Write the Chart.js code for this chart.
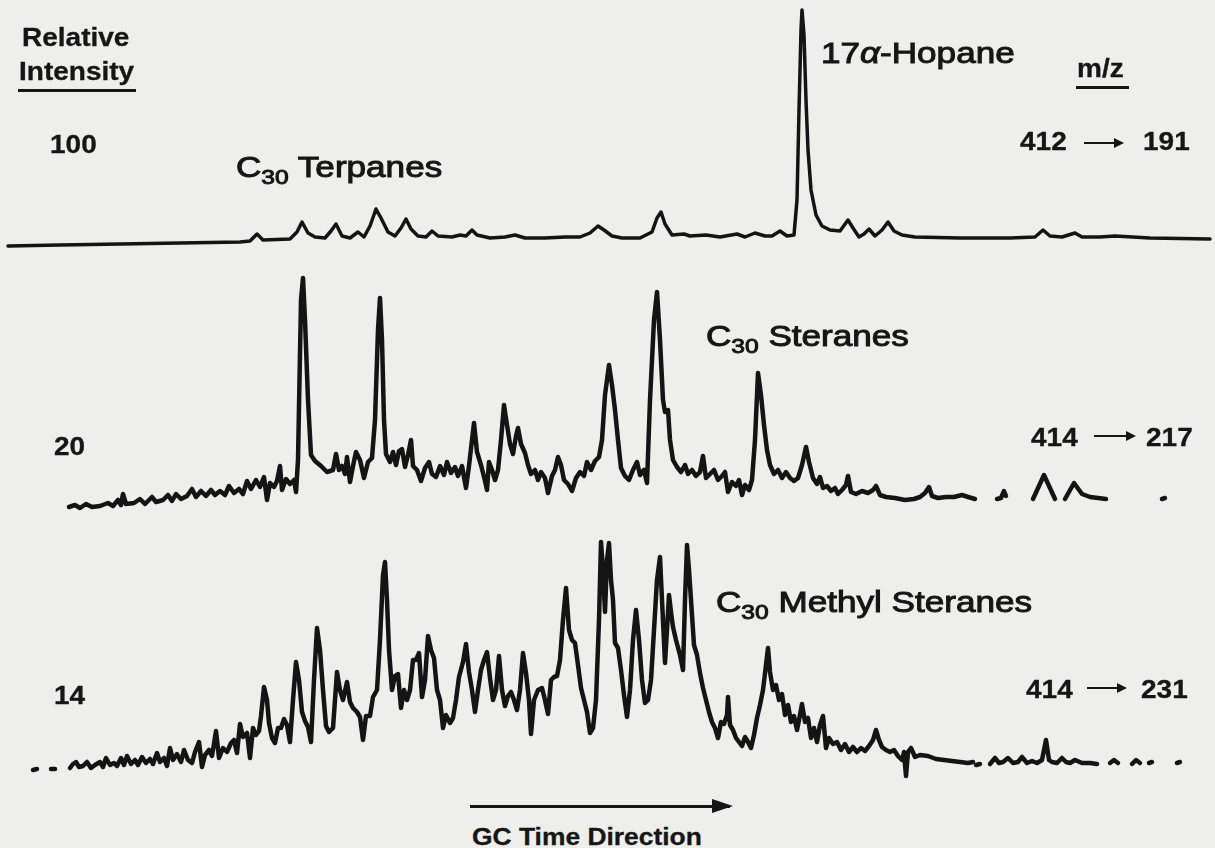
<!DOCTYPE html>
<html>
<head>
<meta charset="utf-8">
<title>C30 terpanes and steranes - GC/MS/MS</title>
<script src="https://cdn.jsdelivr.net/npm/chart.js@4.4.1/dist/chart.umd.min.js"></script>
<style>
  html, body { margin: 0; padding: 0; }
  body {
    width: 1215px; height: 848px; position: relative; overflow: hidden;
    background: #eeeeeb; color: #161616;
    font-family: "Liberation Sans", Arial, Helvetica, sans-serif;
  }
  canvas { position: absolute; left: 0; }
  .t { position: absolute; white-space: nowrap; line-height: 1; transform-origin: 0 0; }
  .b { font-weight: bold; font-size: 25px; transform: scaleX(1.12); -webkit-text-stroke: 0.3px #161616; }
  .big { font-size: 30px; -webkit-text-stroke: 1px #161616; transform: scaleX(1.17); }
  .big sub { font-size: 21px; vertical-align: baseline; position: relative; top: 7px; }
  .rule { position: absolute; height: 3px; background: #161616; }
  .arr { position: absolute; height: 2px; background: #161616; }
  .arr::after {
    content: ""; position: absolute; right: -2px; top: -4px;
    border-left: 10px solid #161616; border-top: 5px solid transparent; border-bottom: 5px solid transparent;
  }
  .gc { height: 3px; }
  .gc::after { right: -3px; top: -6px; border-left: 21px solid #161616; border-top: 7px solid transparent; border-bottom: 7px solid transparent; }
</style>
</head>
<body>

<canvas id="terp" width="1215" height="260"></canvas>
<canvas id="ster" width="1215" height="260"></canvas>
<canvas id="mster" width="1215" height="270"></canvas>

<div class="t b" style="left:22px;top:25px">Relative</div>
<div class="t b" style="left:19px;top:59px">Intensity</div>
<div class="rule" style="left:18px;top:89px;width:118px"></div>
<div class="t b" style="left:50px;top:132px">100</div>
<div class="t big" style="left:236px;top:152px">C<sub>30</sub> Terpanes</div>
<div class="t big" style="left:821px;top:38px">17<i>α</i>-Hopane</div>
<div class="t b" style="left:1077px;top:56px">m/z</div>
<div class="rule" style="left:1076px;top:86px;width:53px"></div>
<div class="t b" style="left:1020px;top:129px">412</div>
<div class="arr" style="left:1084px;top:142px;width:38px"></div>
<div class="t b" style="left:1143px;top:129px">191</div>

<div class="t big" style="left:706px;top:321px">C<sub>30</sub> Steranes</div>
<div class="t b" style="left:54px;top:434px">20</div>
<div class="t b" style="left:1031px;top:425px">414</div>
<div class="arr" style="left:1094px;top:435px;width:40px"></div>
<div class="t b" style="left:1146px;top:425px">217</div>

<div class="t big" style="left:716px;top:587px">C<sub>30</sub> Methyl Steranes</div>
<div class="t b" style="left:54px;top:683px">14</div>
<div class="t b" style="left:1026px;top:677px">414</div>
<div class="arr" style="left:1087px;top:687px;width:38px"></div>
<div class="t b" style="left:1141px;top:677px">231</div>

<div class="arr gc" style="left:470px;top:805px;width:260px"></div>
<div class="t b" style="left:472px;top:825px;font-size:24px;transform:scaleX(1.1)">GC Time Direction</div>

<script>
// GC time (scan units across the page) and relative intensity for each MRM trace
// m/z 412 -> 191, C30 terpanes (17a-hopane is the big one)
const terpTime = [
  8, 60, 120, 180, 240, 250, 257, 263, 290, 297,
  302, 308, 315, 325, 331, 336, 342, 350, 358, 364,
  370, 376, 381, 388, 395, 401, 406, 411, 418, 426,
  432, 438, 452, 460, 466, 472, 477, 490, 505, 515,
  525, 545, 565, 580, 590, 598, 604, 612, 622, 640,
  652, 657, 661, 665, 672, 684, 690, 706, 720, 737,
  745, 755, 765, 772, 780, 787, 794, 797, 799, 801,
  802, 804, 806, 808, 811, 816, 822, 830, 840, 848,
  853, 859, 864, 869, 875, 882, 888, 894, 902, 915,
  960, 1010, 1035, 1043, 1050, 1062, 1075, 1082, 1100, 1115,
  1150, 1210
];
const terpInt = [
  14, 15, 16, 17, 18, 19, 26, 20, 21, 28,
  38, 27, 23, 22, 29, 36, 24, 22, 28, 23,
  34, 51, 42, 28, 24, 32, 41, 31, 24, 23,
  29, 24, 23, 25, 24, 30, 25, 22, 23, 25,
  22, 22, 23, 23, 27, 34, 30, 24, 22, 22,
  28, 42, 48, 36, 25, 26, 24, 25, 23, 26,
  23, 27, 24, 24, 29, 24, 25, 60, 150, 230,
  250, 225, 160, 110, 70, 45, 34, 30, 29, 40,
  32, 23, 26, 31, 24, 30, 38, 29, 25, 23,
  22, 22, 23, 30, 24, 23, 27, 23, 23, 24,
  22, 21
];

// m/z 414 -> 217, C30 steranes (null = break in the trace)
const sterTime = [
  69, 75, 80, 86, 92, 100, 108, 113, 118, 121,
  123, 126, 134, 140, 145, 152, 156, 163, 168, 172,
  176, 181, 187, 192, 196, 201, 206, 211, 215, 220,
  225, 229, 234, 239, 243, 247, 251, 256, 260, 264,
  267, 270, 274, 277, 280, 282, 286, 290, 294, 296,
  298, 301, 303, 305, 308, 311, 315, 321, 327, 333,
  336, 339, 342, 345, 347, 350, 353, 356, 360, 364,
  368, 372, 375, 378, 380, 382, 384, 386, 390, 393,
  396, 399, 402, 405, 408, 411, 413, 417, 421, 425,
  429, 432, 436, 440, 444, 447, 451, 455, 458, 462,
  466, 469, 472, 474, 477, 481, 485, 487, 489, 492,
  495, 498, 501, 504, 507, 510, 513, 516, 518, 521,
  525, 528, 531, 535, 538, 541, 545, 548, 552, 555,
  558, 561, 564, 568, 572, 576, 580, 584, 587, 591,
  595, 599, 602, 605, 609, 612, 615, 618, 621, 625,
  629, 633, 637, 640, 644, 647, 650, 654, 657, 660,
  663, 665, 668, 670, 673, 677, 681, 685, 688, 692,
  696, 700, 703, 706, 710, 714, 718, 722, 725, 728,
  732, 736, 739, 742, 745, 749, 752, 755, 758, 761,
  764, 767, 770, 774, 778, 782, 786, 790, 794, 798,
  802, 806, 809, 813, 817, 820, 823, 827, 831, 835,
  838, 842, 846, 848, 851, 856, 862, 868, 873, 876,
  880, 886, 895, 905, 914, 920, 925, 929, 932, 938,
  946, 954, 962, 968, 975, 986, 997, 1001, 1004, 1006,
  1020, 1033, 1044, 1055, 1060, 1065, 1074, 1082, 1090, 1106,
  1130, 1162, 1165
];
const sterInt = [
  13, 15, 12, 16, 13, 14, 17, 14, 20, 15,
  26, 16, 17, 21, 16, 23, 18, 20, 25, 19,
  26, 21, 24, 31, 23, 29, 24, 30, 25, 29,
  25, 34, 27, 31, 26, 39, 31, 40, 33, 43,
  20, 37, 33, 39, 54, 30, 41, 36, 40, 28,
  60, 220, 242, 200, 120, 65, 59, 54, 48, 50,
  66, 50, 54, 46, 63, 38, 54, 68, 60, 42,
  58, 62, 100, 190, 222, 180, 100, 66, 58, 68,
  55, 69, 71, 53, 65, 80, 54, 50, 39, 52,
  58, 46, 43, 54, 45, 58, 47, 53, 44, 54,
  32, 54, 80, 97, 68, 55, 39, 30, 58, 50,
  40, 50, 80, 115, 95, 76, 66, 84, 92, 76,
  67, 55, 46, 50, 40, 48, 42, 27, 44, 50,
  63, 55, 40, 36, 29, 42, 48, 44, 58, 50,
  59, 63, 80, 125, 155, 135, 110, 80, 52, 44,
  40, 50, 58, 45, 50, 37, 120, 200, 228, 180,
  120, 108, 110, 80, 60, 53, 48, 55, 46, 50,
  44, 48, 64, 42, 46, 50, 40, 44, 48, 28,
  38, 34, 40, 25, 35, 30, 40, 80, 147, 125,
  95, 70, 55, 46, 50, 42, 48, 42, 39, 42,
  55, 73, 58, 42, 36, 43, 32, 34, 29, 32,
  26, 30, 35, 44, 28, 26, 29, 27, 30, 34,
  25, 23, 22, 20, 21, 23, 27, 33, 24, 22,
  23, 23, 25, 23, 21, null, 21, 22, 29, 24,
  null, 21, 45, 21, null, 21, 37, 26, 23, 21,
  null, 21, 22
];

// m/z 414 -> 231, C30 methyl steranes
const mstTime = [
  33, 37, 41, 51, 55, 60, 70, 73, 76, 79,
  83, 87, 91, 95, 100, 103, 106, 110, 114, 117,
  121, 124, 127, 131, 135, 138, 142, 146, 150, 153,
  157, 160, 164, 167, 170, 173, 177, 181, 184, 188,
  192, 195, 199, 202, 205, 209, 212, 216, 219, 223,
  227, 231, 234, 237, 240, 243, 247, 250, 253, 256,
  259, 261, 264, 267, 269, 272, 275, 278, 281, 284,
  287, 290, 293, 296, 299, 302, 305, 308, 311, 314,
  317, 320, 323, 326, 329, 333, 337, 340, 343, 347,
  350, 353, 357, 360, 363, 366, 370, 373, 377, 380,
  383, 385, 387, 389, 392, 395, 398, 401, 404, 407,
  410, 413, 416, 419, 422, 425, 428, 431, 434, 437,
  440, 443, 446, 450, 453, 456, 459, 463, 466, 469,
  472, 475, 478, 481, 484, 487, 490, 493, 496, 499,
  502, 505, 508, 511, 514, 517, 520, 523, 526, 529,
  531, 534, 538, 542, 545, 548, 551, 554, 557, 560,
  563, 566, 569, 572, 575, 578, 581, 584, 587, 590,
  593, 596, 599, 601, 603, 605, 607, 609, 611, 613,
  615, 618, 621, 624, 627, 630, 633, 636, 639, 642,
  645, 648, 651, 654, 657, 660, 662, 665, 667, 669,
  671, 673, 676, 680, 683, 685, 687, 689, 691, 694,
  697, 700, 703, 706, 709, 712, 715, 718, 721, 724,
  727, 728, 730, 733, 736, 739, 742, 745, 748, 751,
  754, 757, 760, 763, 766, 768, 770, 773, 776, 779,
  782, 785, 788, 791, 794, 797, 800, 802, 805, 808,
  811, 814, 817, 820, 823, 826, 829, 833, 837, 841,
  845, 849, 853, 857, 861, 865, 869, 873, 876, 879,
  882, 886, 890, 894, 898, 902, 904, 906, 908, 911,
  915, 920, 928, 936, 944, 952, 960, 968, 973, 975,
  976, 980, 984, 990, 995, 999, 1003, 1008, 1013, 1018,
  1022, 1027, 1032, 1037, 1042, 1046, 1049, 1052, 1057, 1062,
  1066, 1070, 1075, 1082, 1090, 1097, 1102, 1110, 1114, 1118,
  1124, 1132, 1136, 1140, 1144, 1149, 1152, 1160, 1177, 1180
];
const mstInt = [
  20, 21, null, 21, 21, null, 22, 26, 28, 23,
  24, 28, 22, 25, 28, 23, 32, 25, 27, 24,
  32, 25, 34, 26, 30, 25, 33, 27, 31, 26,
  37, 28, 32, 24, 42, 30, 36, 28, 40, 30,
  27, 38, 48, 23, 35, 40, 34, 59, 32, 42,
  38, 47, 50, 37, 66, 53, 57, 32, 62, 55,
  59, 74, 103, 90, 67, 52, 47, 62, 62, 71,
  65, 48, 90, 128, 110, 78, 69, 63, 48, 110,
  162, 140, 100, 64, 58, 62, 118, 100, 90, 108,
  88, 82, 78, 73, 50, 74, 74, 93, 100, 150,
  215, 228, 190, 140, 100, 114, 116, 82, 100, 90,
  100, 130, 130, 137, 93, 110, 154, 140, 132, 100,
  90, 62, 75, 67, 72, 90, 113, 128, 146, 118,
  100, 78, 100, 120, 130, 138, 112, 90, 100, 134,
  100, 84, 94, 98, 90, 80, 100, 137, 117, 90,
  56, 90, 100, 102, 90, 76, 110, 113, 114, 130,
  170, 202, 160, 150, 147, 125, 102, 90, 78, 57,
  62, 90, 170, 248, 220, 178, 230, 247, 210, 190,
  147, 142, 120, 95, 73, 100, 150, 180, 150, 110,
  87, 90, 110, 160, 210, 233, 190, 127, 160, 195,
  178, 163, 150, 135, 120, 190, 245, 220, 190, 145,
  135, 117, 102, 90, 78, 68, 62, 52, 68, 66,
  75, 93, 65, 60, 52, 48, 44, 53, 48, 42,
  55, 72, 85, 100, 125, 142, 118, 100, 105, 90,
  96, 75, 85, 68, 74, 60, 75, 86, 68, 72,
  52, 62, 48, 65, 74, 42, 52, 46, 48, 40,
  46, 38, 43, 38, 42, 39, 44, 50, 60, 50,
  43, 40, 38, 40, 34, 30, 38, 14, 38, 42,
  33, 35, 34, 31, 30, 29, 28, 27, 28, null,
  25, 26, null, 26, 32, 27, 28, 32, 27, 28,
  33, 27, 29, 27, 30, 50, 30, 28, 27, 32,
  28, 27, 30, 27, 27, 26, null, 27, 30, 27,
  null, 26, 30, 27, null, 27, 28, null, 27, 28
];

const ink = '#141414';

function drawTrace(id, times, values, top, height, lineWidth) {
  const canvas = document.getElementById(id);
  canvas.style.top = top + 'px';
  return new Chart(canvas, {
    type: 'line',
    data: {
      datasets: [{
        data: times.map((t, i) => ({ x: t, y: values[i] })),
        borderColor: ink,
        borderWidth: lineWidth,
        borderJoinStyle: 'round',
        borderCapStyle: 'round',
        pointRadius: 0,
        tension: 0,
        spanGaps: false,
        clip: false
      }]
    },
    options: {
      responsive: false,
      animation: false,
      devicePixelRatio: 1,
      events: [],
      layout: { padding: 0 },
      plugins: { legend: { display: false }, tooltip: { enabled: false } },
      scales: {
        x: { type: 'linear', display: false, min: 0, max: 1215 },
        y: { type: 'linear', display: false, min: 0, max: height }
      }
    }
  });
}

drawTrace('terp', terpTime, terpInt, 0, 260, 3.5);
drawTrace('ster', sterTime, sterInt, 260, 260, 4.5);
drawTrace('mster', mstTime, mstInt, 520, 270, 4.5);
</script>
</body>
</html>
